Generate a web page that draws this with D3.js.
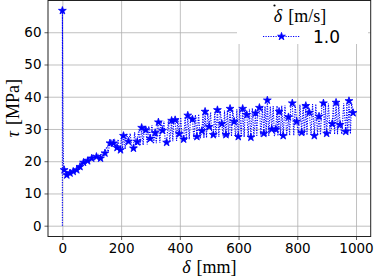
<!DOCTYPE html>
<html>
<head>
<meta charset="utf-8">
<script src="https://cdn.jsdelivr.net/npm/d3@7"></script>
<style>
  body { margin: 0; background: #fff; }
  svg { display: block; }
  .tick text { font-family: "DejaVu Sans", sans-serif; font-size: 13.5px; fill: #000; }
  .grid line { stroke: #b0b0b0; stroke-width: 0.8; }
  .grid path { display: none; }
</style>
</head>
<body>
<script>
// displacement [mm] and shear stress [MPa]
const delta = [0, 0, 2, 4, 6, 9, 12, 15, 19, 22, 26, 30, 33, 37, 41, 45, 49, 53, 56, 60,
  64, 68, 72, 77, 81, 86, 91, 95, 100, 105, 111, 116, 121, 125, 130, 135, 140, 145, 151, 156,
  162, 166, 170, 174, 178, 182, 186, 190, 194, 198, 201, 205, 208, 214, 219, 225, 231, 236, 242, 246,
  251, 255, 260, 265, 270, 275, 279, 284, 289, 294, 299, 305, 310, 316, 320, 324, 327, 332, 336, 341,
  346, 350, 355, 361, 366, 372, 376, 380, 384, 389, 393, 398, 403, 408, 413, 418, 422, 427, 432, 437,
  443, 448, 453, 458, 464, 469, 475, 479, 482, 486, 491, 495, 500, 505, 509, 514, 519, 523, 528, 533,
  538, 543, 548, 552, 557, 562, 566, 571, 576, 580, 585, 590, 594, 599, 604, 609, 614, 619, 623, 628,
  633, 637, 642, 647, 652, 658, 662, 666, 671, 676, 681, 686, 690, 694, 698, 703, 708, 713, 718, 722,
  727, 731, 734, 738, 743, 747, 752, 758, 764, 770, 774, 778, 783, 788, 793, 798, 804, 809, 815, 820,
  824, 829, 833, 837, 841, 847, 852, 858, 863, 869, 874, 879, 884, 889, 893, 896, 900, 906, 912, 919,
  923, 927, 932, 937, 941, 946, 952, 958, 965, 969, 972, 976, 981, 985, 990];
const tau = [0, 66.7, 30.0, 18.5, 17.3, 16.2, 15.4, 15.7, 16.6, 15.8, 16.3, 17.0, 16.4, 16.8, 17.6, 17.0, 17.3, 18.4, 17.8, 18.3,
  19.5, 18.9, 19.6, 20.6, 19.7, 20.1, 21.3, 20.4, 20.9, 21.8, 20.7, 21.4, 22.0, 20.6, 20.9, 22.3, 21.5, 22.5, 24.5, 23.0,
  25.6, 26.3, 24.6, 25.6, 26.5, 23.8, 24.2, 26.8, 23.4, 23.5, 28.0, 24.0, 27.9, 23.8, 28.5, 26.1, 28.6, 24.2, 24.0, 29.0,
  24.5, 26.0, 29.8, 24.8, 30.4, 25.0, 30.6, 29.7, 25.2, 30.9, 27.0, 31.2, 25.4, 28.8, 25.6, 31.8, 32.1, 25.7, 32.3, 29.5,
  32.5, 26.0, 25.8, 32.6, 26.0, 32.6, 26.2, 33.0, 32.8, 26.3, 33.2, 28.5, 33.6, 26.4, 26.8, 33.8, 26.6, 34.2, 26.8, 34.0,
  33.0, 26.9, 34.4, 27.6, 34.6, 27.0, 29.4, 34.8, 27.2, 35.4, 27.3, 35.0, 30.7, 35.2, 27.4, 28.2, 35.3, 27.5, 35.9, 27.5,
  35.6, 31.6, 27.6, 35.7, 28.2, 35.8, 27.6, 36.3, 27.7, 36.0, 32.3, 27.6, 36.1, 27.6, 36.2, 27.5, 36.3, 27.5, 36.2, 34.4,
  27.5, 36.3, 27.4, 36.4, 27.6, 34.9, 27.6, 36.5, 36.6, 27.7, 36.8, 28.6, 37.0, 27.8, 38.9, 27.8, 37.0, 29.9, 37.1, 27.8,
  29.9, 37.2, 27.9, 35.4, 27.9, 37.2, 27.9, 37.3, 28.0, 33.7, 28.0, 37.4, 38.0, 28.0, 37.5, 32.3, 28.1, 37.5, 28.9, 37.6,
  28.1, 37.2, 28.1, 37.6, 35.1, 28.2, 37.7, 27.9, 37.7, 28.2, 33.9, 28.2, 37.8, 38.0, 28.3, 37.8, 28.6, 37.9, 28.3, 31.6,
  37.9, 28.3, 38.2, 28.4, 38.0, 31.3, 28.4, 38.0, 29.2, 38.1, 28.5, 38.7, 28.5, 38.2, 35.0];
const markEvery = 3;   // a star on every third sample, starting at sample 1
const xTicks = [0, 200, 400, 600, 800, 1000];
const yTicks = [0, 10, 20, 30, 40, 50, 60];
const legendTitle = "[m/s]";
const seriesLabel = "1.0";

const width = 374;
const height = 278;
const margin = {top: 0, right: 3.3, bottom: 41.5, left: 48};
const plotW = width - margin.left - margin.right;
const plotH = height - margin.top - margin.bottom;

const svg = d3.select("body").append("svg")
  .attr("width", width)
  .attr("height", height);

const x = d3.scaleLinear().domain([-49, 1050]).range([0, plotW]);
const y = d3.scaleLinear().domain([-3.35, 70]).range([plotH, 0]);

const g = svg.append("g")
  .attr("transform", "translate(" + margin.left + "," + margin.top + ")");

// grid
g.append("g").attr("class", "grid")
  .attr("transform", "translate(0," + plotH + ")")
  .call(d3.axisBottom(x).tickValues(xTicks).tickSize(-plotH).tickFormat(""));
g.append("g").attr("class", "grid")
  .call(d3.axisLeft(y).tickValues(yTicks).tickSize(-plotW).tickFormat(""));

// dotted line through all samples
const points = delta.map((d, i) => [d, tau[i]]);
g.append("path")
  .datum(points)
  .attr("fill", "none")
  .attr("stroke", "#0000ff")
  .attr("stroke-width", 1.1)
  .attr("stroke-dasharray", "1.2,1.3")
  .attr("d", d3.line().x(d => x(d[0])).y(d => y(d[1])));

// star markers
const star = d3.symbol().type(d3.symbolStar).size(19);
g.selectAll(".mark")
  .data(points.filter((d, i) => i % markEvery === 1))
  .enter().append("path")
  .attr("class", "mark")
  .attr("transform", d => "translate(" + x(d[0]) + "," + y(d[1]) + ")")
  .attr("d", star)
  .attr("fill", "#0000ff")
  .attr("stroke", "#0000ff")
  .attr("stroke-width", 0.8);

// axes
const xAxis = g.append("g")
  .attr("transform", "translate(0," + plotH + ")")
  .call(d3.axisBottom(x).tickValues(xTicks).tickFormat(d3.format("d"))
    .tickSize(3.5).tickPadding(3).tickSizeOuter(0));
const yAxis = g.append("g")
  .call(d3.axisLeft(y).tickValues(yTicks).tickFormat(d3.format("d"))
    .tickSize(3.5).tickPadding(3).tickSizeOuter(0));
[xAxis, yAxis].forEach(a => {
  a.select(".domain").remove();
  a.selectAll(".tick line").attr("stroke", "#333").attr("stroke-width", 0.8);
});

// frame
g.append("rect")
  .attr("x", 0).attr("y", 0.5)
  .attr("width", plotW).attr("height", plotH - 0.5)
  .attr("fill", "none")
  .attr("stroke", "#222")
  .attr("stroke-width", 1);

// axis labels
const serif = "'Liberation Serif', 'DejaVu Serif', serif";
const xl = svg.append("text")
  .attr("x", margin.left + plotW / 2)
  .attr("y", 273)
  .attr("text-anchor", "middle")
  .style("font-family", serif)
  .style("font-size", "18px");
xl.append("tspan").style("font-style", "italic").text("δ");
xl.append("tspan").attr("dx", 6).text("[mm]");

const yl = svg.append("text")
  .attr("transform", "translate(19," + (margin.top + plotH / 2 - 10) + ") rotate(-90)")
  .attr("text-anchor", "middle")
  .style("font-family", serif)
  .style("font-size", "18px");
yl.append("tspan").style("font-style", "italic").text("τ");
yl.append("tspan").attr("dx", 6).text("[MPa]");

// legend
const lg = svg.append("g");
lg.append("rect")
  .attr("x", 237).attr("y", 1)
  .attr("width", 131).attr("height", 43)
  .attr("fill", "#fff");
const lt = lg.append("text")
  .attr("x", 300).attr("y", 22)
  .attr("text-anchor", "middle")
  .style("font-family", serif)
  .style("font-size", "18px");
lt.append("tspan").style("font-style", "italic").text("δ");
lt.append("tspan").attr("dx", 6).text(legendTitle);
// the dot over delta
lg.append("circle")
  .attr("cx", 274.5).attr("cy", 5.5).attr("r", 1.1)
  .attr("fill", "#000");
lg.append("line")
  .attr("x1", 263).attr("x2", 300)
  .attr("y1", 36.5).attr("y2", 36.5)
  .attr("stroke", "#0000ff")
  .attr("stroke-width", 1.1)
  .attr("stroke-dasharray", "1.2,1.3");
lg.append("path")
  .attr("transform", "translate(281.5,36.5)")
  .attr("d", star)
  .attr("fill", "#0000ff")
  .attr("stroke", "#0000ff")
  .attr("stroke-width", 0.8);
lg.append("text")
  .attr("x", 313).attr("y", 43)
  .style("font-family", "'DejaVu Sans', sans-serif")
  .style("font-size", "17px")
  .text(seriesLabel);
</script>
</body>
</html>
